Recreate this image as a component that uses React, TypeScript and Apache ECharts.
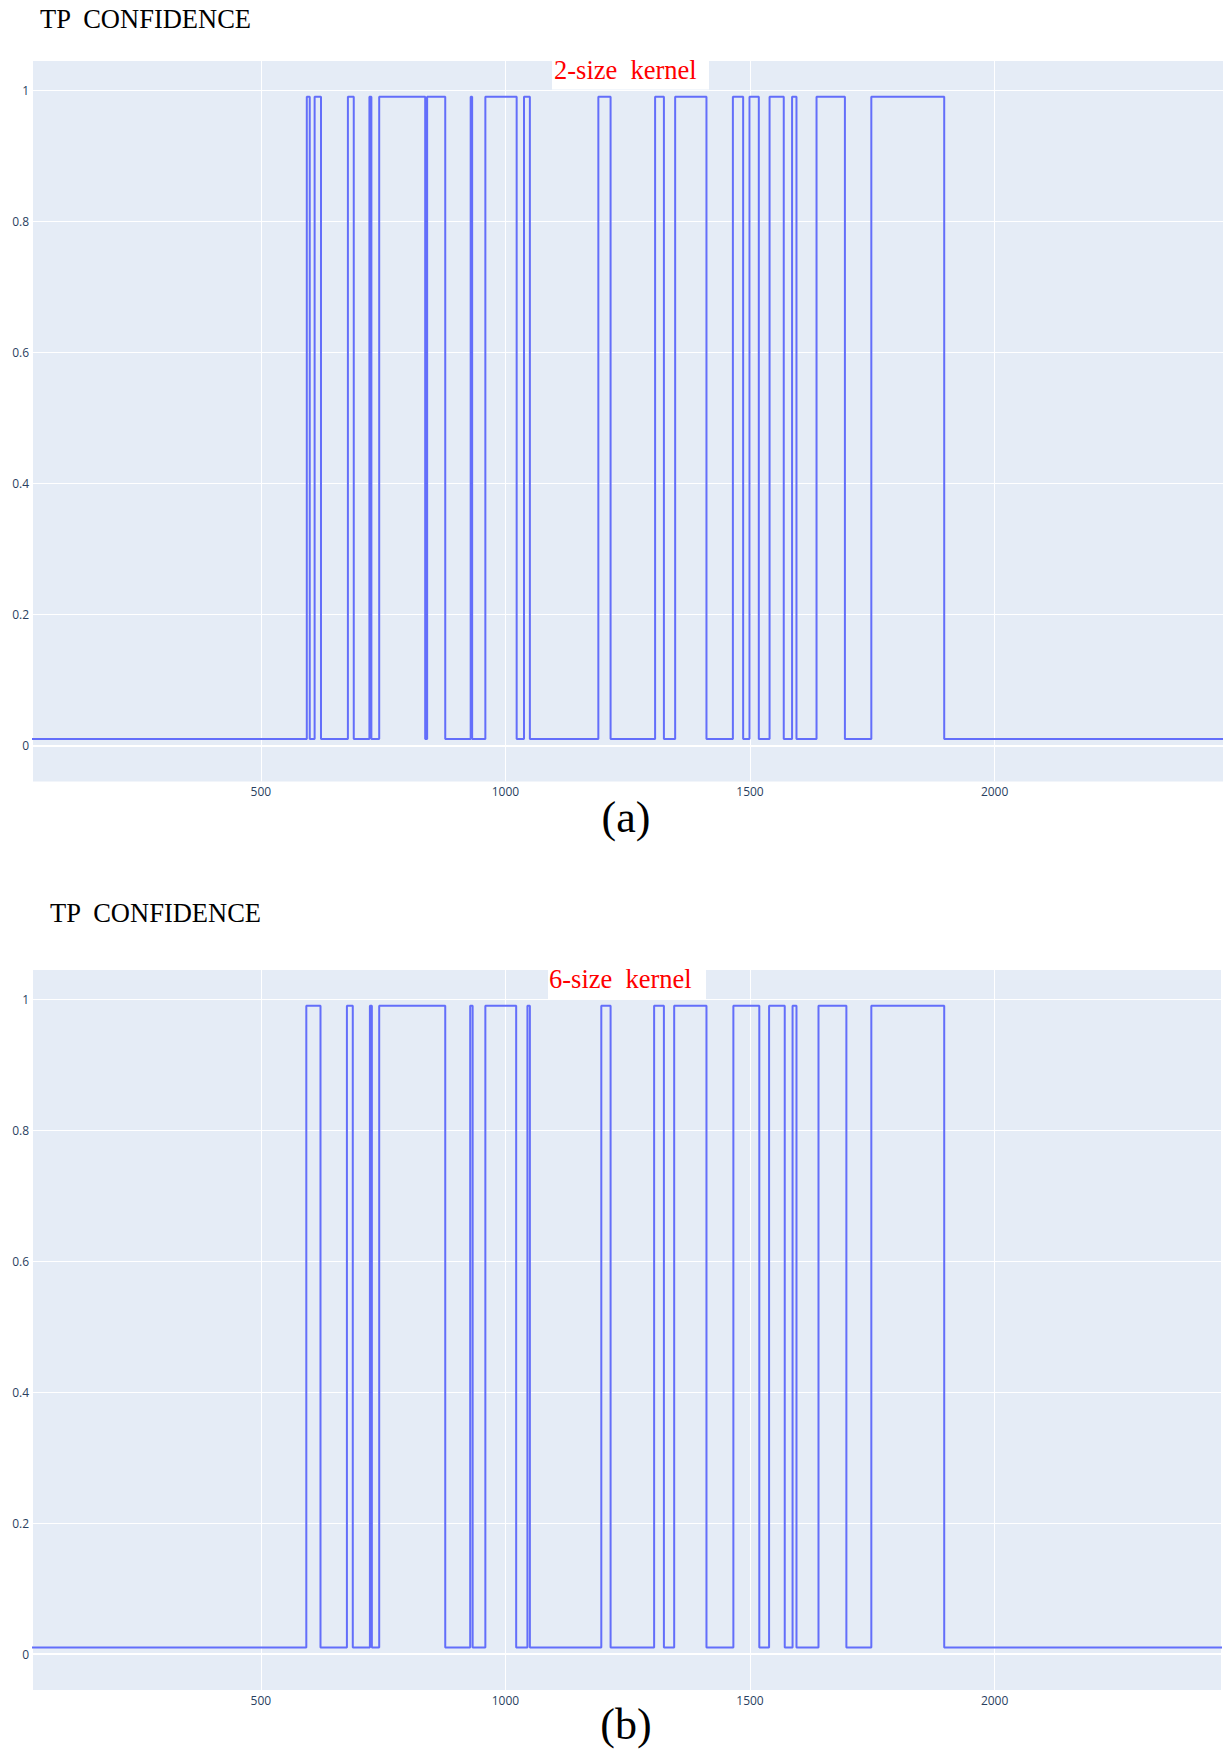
import React, { useEffect, useRef } from "react";
import * as echarts from "echarts";

const xTicks = [500, 1000, 1500, 2000];
const yTicks = [0, 0.2, 0.4, 0.6, 0.8, 1];

const L = 0.01;
const H = 0.99;

// (a) 2-size kernel: each value holds from its edge to the next edge
const edgesA = [0, 594, 600, 610, 623, 678, 690, 722, 726, 742, 836, 840, 877, 929, 932, 959, 1023, 1038, 1050, 1190, 1215, 1306, 1324, 1347, 1411, 1465, 1486, 1499, 1518, 1540, 1569, 1586, 1595, 1636, 1694, 1748, 1897, 2500];
const levelsA = [L, H, L, H, L, H, L, H, L, H, L, H, L, H, L, H, L, H, L, H, L, H, L, H, L, H, L, H, L, H, L, H, L, H, L, H, L, L];

// (b) 6-size kernel
const edgesB = [0, 593, 622, 676, 688, 723, 727, 742, 877, 928, 933, 959, 1022, 1045, 1050, 1196, 1215, 1304, 1324, 1345, 1411, 1466, 1519, 1539, 1571, 1587, 1595, 1640, 1697, 1748, 1897, 2500];
const levelsB = [L, H, L, H, L, H, L, H, L, H, L, H, L, H, L, H, L, H, L, H, L, H, L, H, L, H, L, H, L, H, L, L];

const titleText = "TP  CONFIDENCE";
const labelA = "2-size  kernel";
const labelB = "6-size  kernel";
const captionA = "(a)";
const captionB = "(b)";

const toData = (edges: number[], levels: number[]) => edges.map((x, i) => [x, levels[i]]);

const tickFont = { fontFamily: "Open Sans", fontSize: 12, color: "#2a3f5f" };

function xAxisFor(gridIndex: number, max: number) {
  return {
    type: "value",
    gridIndex,
    min: 34.3,
    max,
    axisLine: { show: false },
    axisTick: { show: false, customValues: xTicks },
    axisLabel: { ...tickFont, margin: 4, customValues: xTicks, formatter: (v: number) => String(v) },
    splitLine: { show: true, lineStyle: { color: "#ffffff", width: 1 } },
  };
}

function yAxisFor(gridIndex: number) {
  return {
    type: "value",
    gridIndex,
    min: -0.0549,
    max: 1.0447,
    axisLine: { show: false },
    axisTick: { show: false, customValues: yTicks },
    axisLabel: { ...tickFont, margin: 4, customValues: yTicks, formatter: (v: number) => String(Math.round(v * 10) / 10) },
    splitLine: { show: true, lineStyle: { color: "#ffffff", width: 1 } },
  };
}

function seriesFor(idx: number, data: number[][]) {
  return {
    type: "line",
    xAxisIndex: idx,
    yAxisIndex: idx,
    step: "end",
    showSymbol: false,
    symbol: "none",
    silent: true,
    clip: true,
    lineStyle: { color: "#636efa", width: 2 },
    data,
    markLine: {
      silent: true,
      symbol: "none",
      label: { show: false },
      lineStyle: { color: "#ffffff", width: 2, type: "solid" },
      data: [{ yAxis: 0 }],
    },
  };
}

export default function App() {
  const ref = useRef<HTMLDivElement>(null);
  useEffect(() => {
    if (!ref.current) return;
    const chart = echarts.init(ref.current, undefined, { renderer: "svg" });
    const serif = '"Liberation Serif", "Times New Roman", serif';
    chart.setOption({
      animation: false,
      backgroundColor: "#ffffff",
      grid: [
        { left: 33, top: 61, width: 1190, height: 720.5, show: true, backgroundColor: "#E5ECF6", borderWidth: 0 },
        { left: 33, top: 970, width: 1188, height: 720, show: true, backgroundColor: "#E5ECF6", borderWidth: 0 },
      ],
      xAxis: [xAxisFor(0, 2466.9), xAxisFor(1, 2462.8)],
      yAxis: [yAxisFor(0), yAxisFor(1)],
      series: [seriesFor(0, toData(edgesA, levelsA)), seriesFor(1, toData(edgesB, levelsB))],
      graphic: [
        { type: "text", x: 40, y: 19.2, style: { text: titleText, font: `26.5px ${serif}`, fill: "#000000", verticalAlign: "middle", textAlign: "left" } },
        { type: "rect", shape: { x: 552, y: 61, width: 157, height: 28.5 }, style: { fill: "#ffffff" }, z: 10 },
        { type: "text", x: 554, y: 69.5, z: 11, style: { text: labelA, font: `26.5px ${serif}`, fill: "#ff0000", verticalAlign: "middle", textAlign: "left" } },
        { type: "text", x: 626, y: 817.5, style: { text: captionA, font: `44px ${serif}`, fill: "#000000", verticalAlign: "middle", textAlign: "center" } },
        { type: "text", x: 50, y: 913, style: { text: titleText, font: `26.5px ${serif}`, fill: "#000000", verticalAlign: "middle", textAlign: "left" } },
        { type: "rect", shape: { x: 548, y: 970, width: 158, height: 29 }, style: { fill: "#ffffff" }, z: 10 },
        { type: "text", x: 549, y: 978.5, z: 11, style: { text: labelB, font: `26.5px ${serif}`, fill: "#ff0000", verticalAlign: "middle", textAlign: "left" } },
        { type: "text", x: 626, y: 1724, style: { text: captionB, font: `44px ${serif}`, fill: "#000000", verticalAlign: "middle", textAlign: "center" } },
      ],
    });
    return () => chart.dispose();
  }, []);
  return <div ref={ref} style={{ position: "absolute", left: 0, top: 0, width: 1223, height: 1749 }} />;
}
